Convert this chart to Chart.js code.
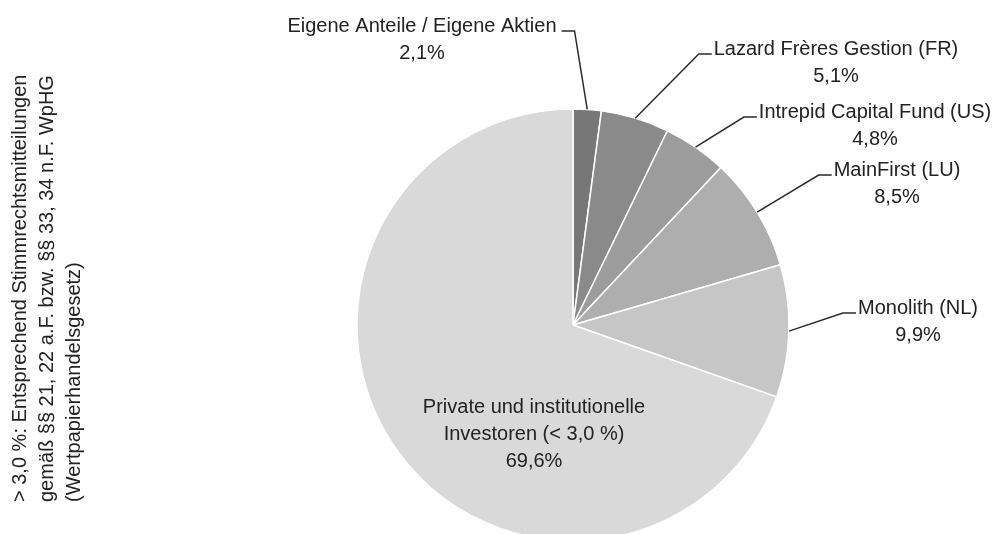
<!DOCTYPE html>
<html>
<head>
<meta charset="utf-8">
<script src="https://cdn.jsdelivr.net/npm/chart.js@4/dist/chart.umd.min.js"></script>
<style>
	html, body { margin: 0; padding: 0; background: #fff; overflow: hidden; }
	#chart { display: block; }
</style>
</head>
<body>
<canvas id="chart" width="994" height="534"></canvas>
<script>
"use strict";

// Shareholder structure
const holders = [
	['Eigene Anteile / Eigene Aktien'],
	['Lazard Frères Gestion (FR)'],
	['Intrepid Capital Fund (US)'],
	['MainFirst (LU)'],
	['Monolith (NL)'],
	['Private und institutionelle', 'Investoren (< 3,0 %)']
];
const shares = [2.1, 5.1, 4.8, 8.5, 9.9, 69.6];
const sliceColours = ['#777777', '#8a8a8a', '#9c9c9c', '#aeaeae', '#c6c6c6', '#d9d9d9'];

const noteLines = [
	'> 3,0 %: Entsprechend Stimmrechtsmitteilungen',
	'gemäß §§ 21, 22 a.F. bzw. §§ 33, 34 n.F. WpHG',
	'(Wertpapierhandelsgesetz)'
];

// where each label sits (centre of its first line) and which side the leader joins
const labelSpots = [
	{ x: 422, y: 26, side: 'right' },
	{ x: 836, y: 49, side: 'left' },
	{ x: 875, y: 112, side: 'left' },
	{ x: 897, y: 170, side: 'left' },
	{ x: 918, y: 308, side: 'left' },
	{ x: 534, y: 407, side: 'none' }
];

const FONT = '20px "Liberation Sans", Arial, sans-serif';
const TEXT = '#222222';
const LINE_H = 27;

function pct(v) {
	return v.toFixed(1).replace('.', ',') + '%';
}

const pieLabels = {
	id: 'pieLabels',
	afterDatasetsDraw(chart) {
		const ctx = chart.ctx;
		const arcs = chart.getDatasetMeta(0).data;
		ctx.save();
		ctx.font = FONT;
		ctx.fillStyle = TEXT;
		ctx.textAlign = 'center';
		ctx.textBaseline = 'middle';
		arcs.forEach(function (arc, i) {
			const spot = labelSpots[i];
			const lines = holders[i].concat([pct(shares[i])]);
			lines.forEach(function (t, k) {
				ctx.fillText(t, spot.x, spot.y + k * LINE_H);
			});
			if (spot.side === 'none') { return; }

			// leader: from the slice edge to an elbow, then flat to the text
			const p = arc.getProps(['x', 'y', 'startAngle', 'endAngle', 'outerRadius'], true);
			const mid = (p.startAngle + p.endAngle) / 2;
			const ex = p.x + Math.cos(mid) * p.outerRadius;
			const ey = p.y + Math.sin(mid) * p.outerRadius;
			const w = ctx.measureText(holders[i][0]).width;
			const ly = spot.y + 5;
			let hx1, hx2;
			if (spot.side === 'left') {
				hx2 = spot.x - w / 2 - 2;
				hx1 = hx2 - 13;
			} else {
				hx1 = spot.x + w / 2 + 5;
				hx2 = hx1 + 13;
			}
			const elbow = spot.side === 'left' ? hx1 : hx2;
			ctx.beginPath();
			ctx.strokeStyle = '#2a2a2a';
			ctx.lineWidth = 1.5;
			ctx.moveTo(ex, ey);
			ctx.lineTo(elbow, ly);
			ctx.lineTo(spot.side === 'left' ? hx2 : hx1, ly);
			ctx.stroke();
		});
		ctx.restore();
	},
	afterDraw(chart) {
		// rotated footnote on the left
		const ctx = chart.ctx;
		ctx.save();
		ctx.font = FONT;
		ctx.fillStyle = TEXT;
		ctx.textAlign = 'left';
		ctx.textBaseline = 'middle';
		ctx.translate(20, 502);
		ctx.rotate(-Math.PI / 2);
		noteLines.forEach(function (t, k) {
			ctx.fillText(t, 0, k * LINE_H);
		});
		ctx.restore();
	}
};

new Chart(document.getElementById('chart'), {
	type: 'pie',
	data: {
		labels: holders.map(function (h) { return h.join(' '); }),
		datasets: [{
			data: shares,
			backgroundColor: sliceColours,
			borderColor: '#ffffff',
			borderWidth: 1.5,
			radius: 216,
			clip: false
		}]
	},
	options: {
		responsive: false,
		animation: false,
		devicePixelRatio: 1,
		rotation: 0,
		layout: { padding: { left: 152, right: 0, top: 116, bottom: 0 } },
		plugins: {
			legend: { display: false },
			tooltip: { enabled: false }
		}
	},
	plugins: [pieLabels]
});
</script>
</body>
</html>
